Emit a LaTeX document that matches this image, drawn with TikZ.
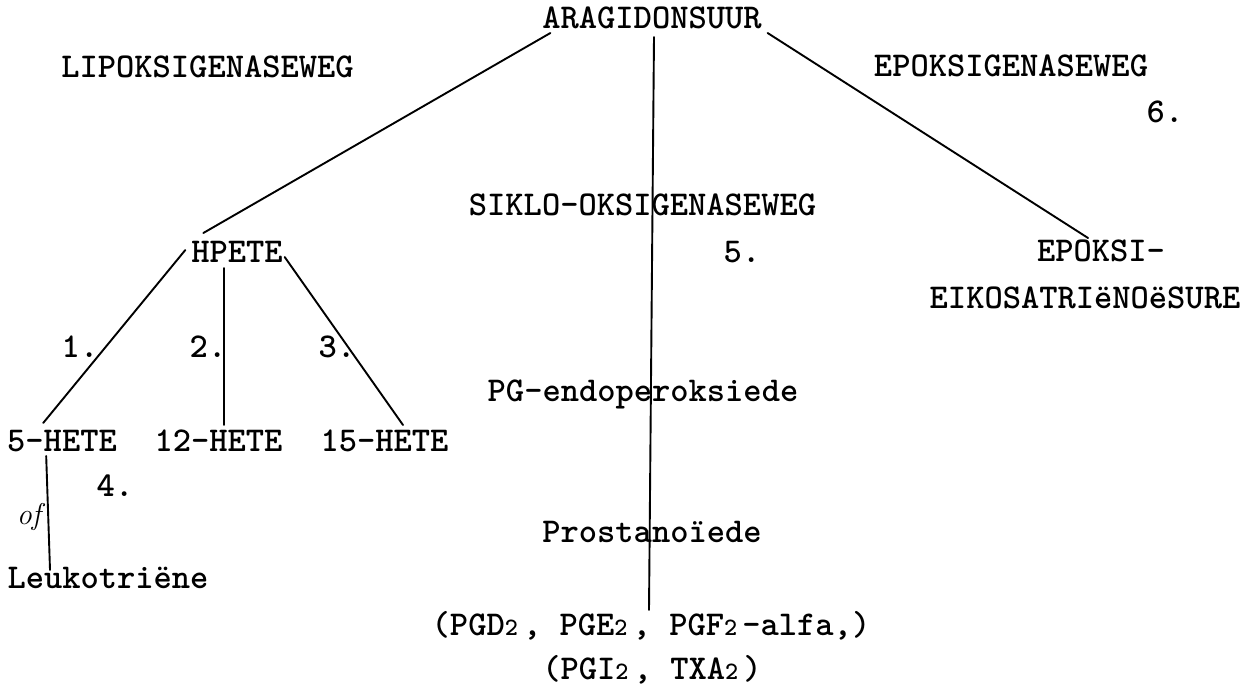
\documentclass[tikz,border=0pt]{standalone}
\usepackage{fontspec}
\usetikzlibrary{calc}
\newcommand\subtwo{\makebox[9.15pt][l]{\fontsize{12.5}{12.5}\selectfont 2}}
\begin{document}
\begin{tikzpicture}[x=0.5pt,y=-0.5pt,
  lbl/.style={font=\ttfamily\bfseries\fontsize{17.4}{18}\selectfont, inner sep=0pt, outer sep=0pt,
    anchor=base, text height=9pt, text depth=2.5pt},
  hand/.style={font=\rmfamily\itshape\fontsize{15}{15}\selectfont, inner sep=0pt, anchor=base},
  conn/.style={line width=0.95pt, line cap=round},
]
\fill[white] (0,0) rectangle (1254,687);
\useasboundingbox (0,0) rectangle (1254,687);

\node[lbl] (arag) at (652,28) {ARAGIDONSUUR};
\node[lbl] (lipo) at (207.5,77) {LIPOKSIGENASEWEG};
\node[lbl] (epoweg) at (1011,76) {EPOKSIGENASEWEG};
\node[lbl] (n6) at (1165,122) {6.};
\node[lbl] (siklo) at (642.5,215) {SIKLO-OKSIGENASEWEG};
\node[lbl] (n5) at (742,262) {5.};
\node[lbl] (hpete) at (237,262) {HPETE};
\node[lbl] (epoksi) at (1101,261) {EPOKSI-};
\node[lbl] (eiko) at (1085,308) {EIKOSATRIëNOëSURE};
\node[lbl] (n1) at (80,357) {1.};
\node[lbl] (n2) at (208,357) {2.};
\node[lbl] (n3) at (337,357) {3.};
\node[lbl] (pgendo) at (643,401) {PG-endoperoksiede};
\node[lbl] (hete5) at (62,451) {5-HETE};
\node[lbl] (hete12) at (218.5,451) {12-HETE};
\node[lbl] (hete15) at (384.5,451) {15-HETE};
\node[lbl] (n4) at (115,496) {4.};
\node[hand] (of) at (29,524) {of};
\node[lbl] (leuk) at (108,588) {Leukotriëne};
\node[lbl] (prost) at (652,542) {Prostanoïede};
\node[lbl] (pgd) at (651,635) {(PGD\subtwo, PGE\subtwo, PGF\subtwo-alfa,)};
\node[lbl] (pgi) at (652,679) {(PGI\subtwo, TXA\subtwo)};

\draw[conn] ($(arag.south)+(2,4)$) -- ($(pgd.north)+(-2,-7)$);
\draw[conn] ($(arag.south west)+(8,0)$) -- ($(hpete.north west)+(12,-11)$);
\draw[conn] ($(arag.south east)+(6,0)$) -- ($(epoksi.north west)+(51,-5)$);
\draw[conn] ($(hpete.west)+(-6,-5.5)$) -- ($(hete5.north west)+(36,-10)$);
\draw[conn] ($(hpete.south)+(-13,1)$) -- ($(hete12.north)+(5.5,-8)$);
\draw[conn] ($(hpete.east)+(2,1.5)$) -- ($(hete15.north)+(18.5,-8)$);
\draw[conn] ($(hete5.south west)+(39,0)$) -- ($(leuk.north west)+(42.5,0)$);
\end{tikzpicture}
\end{document}
